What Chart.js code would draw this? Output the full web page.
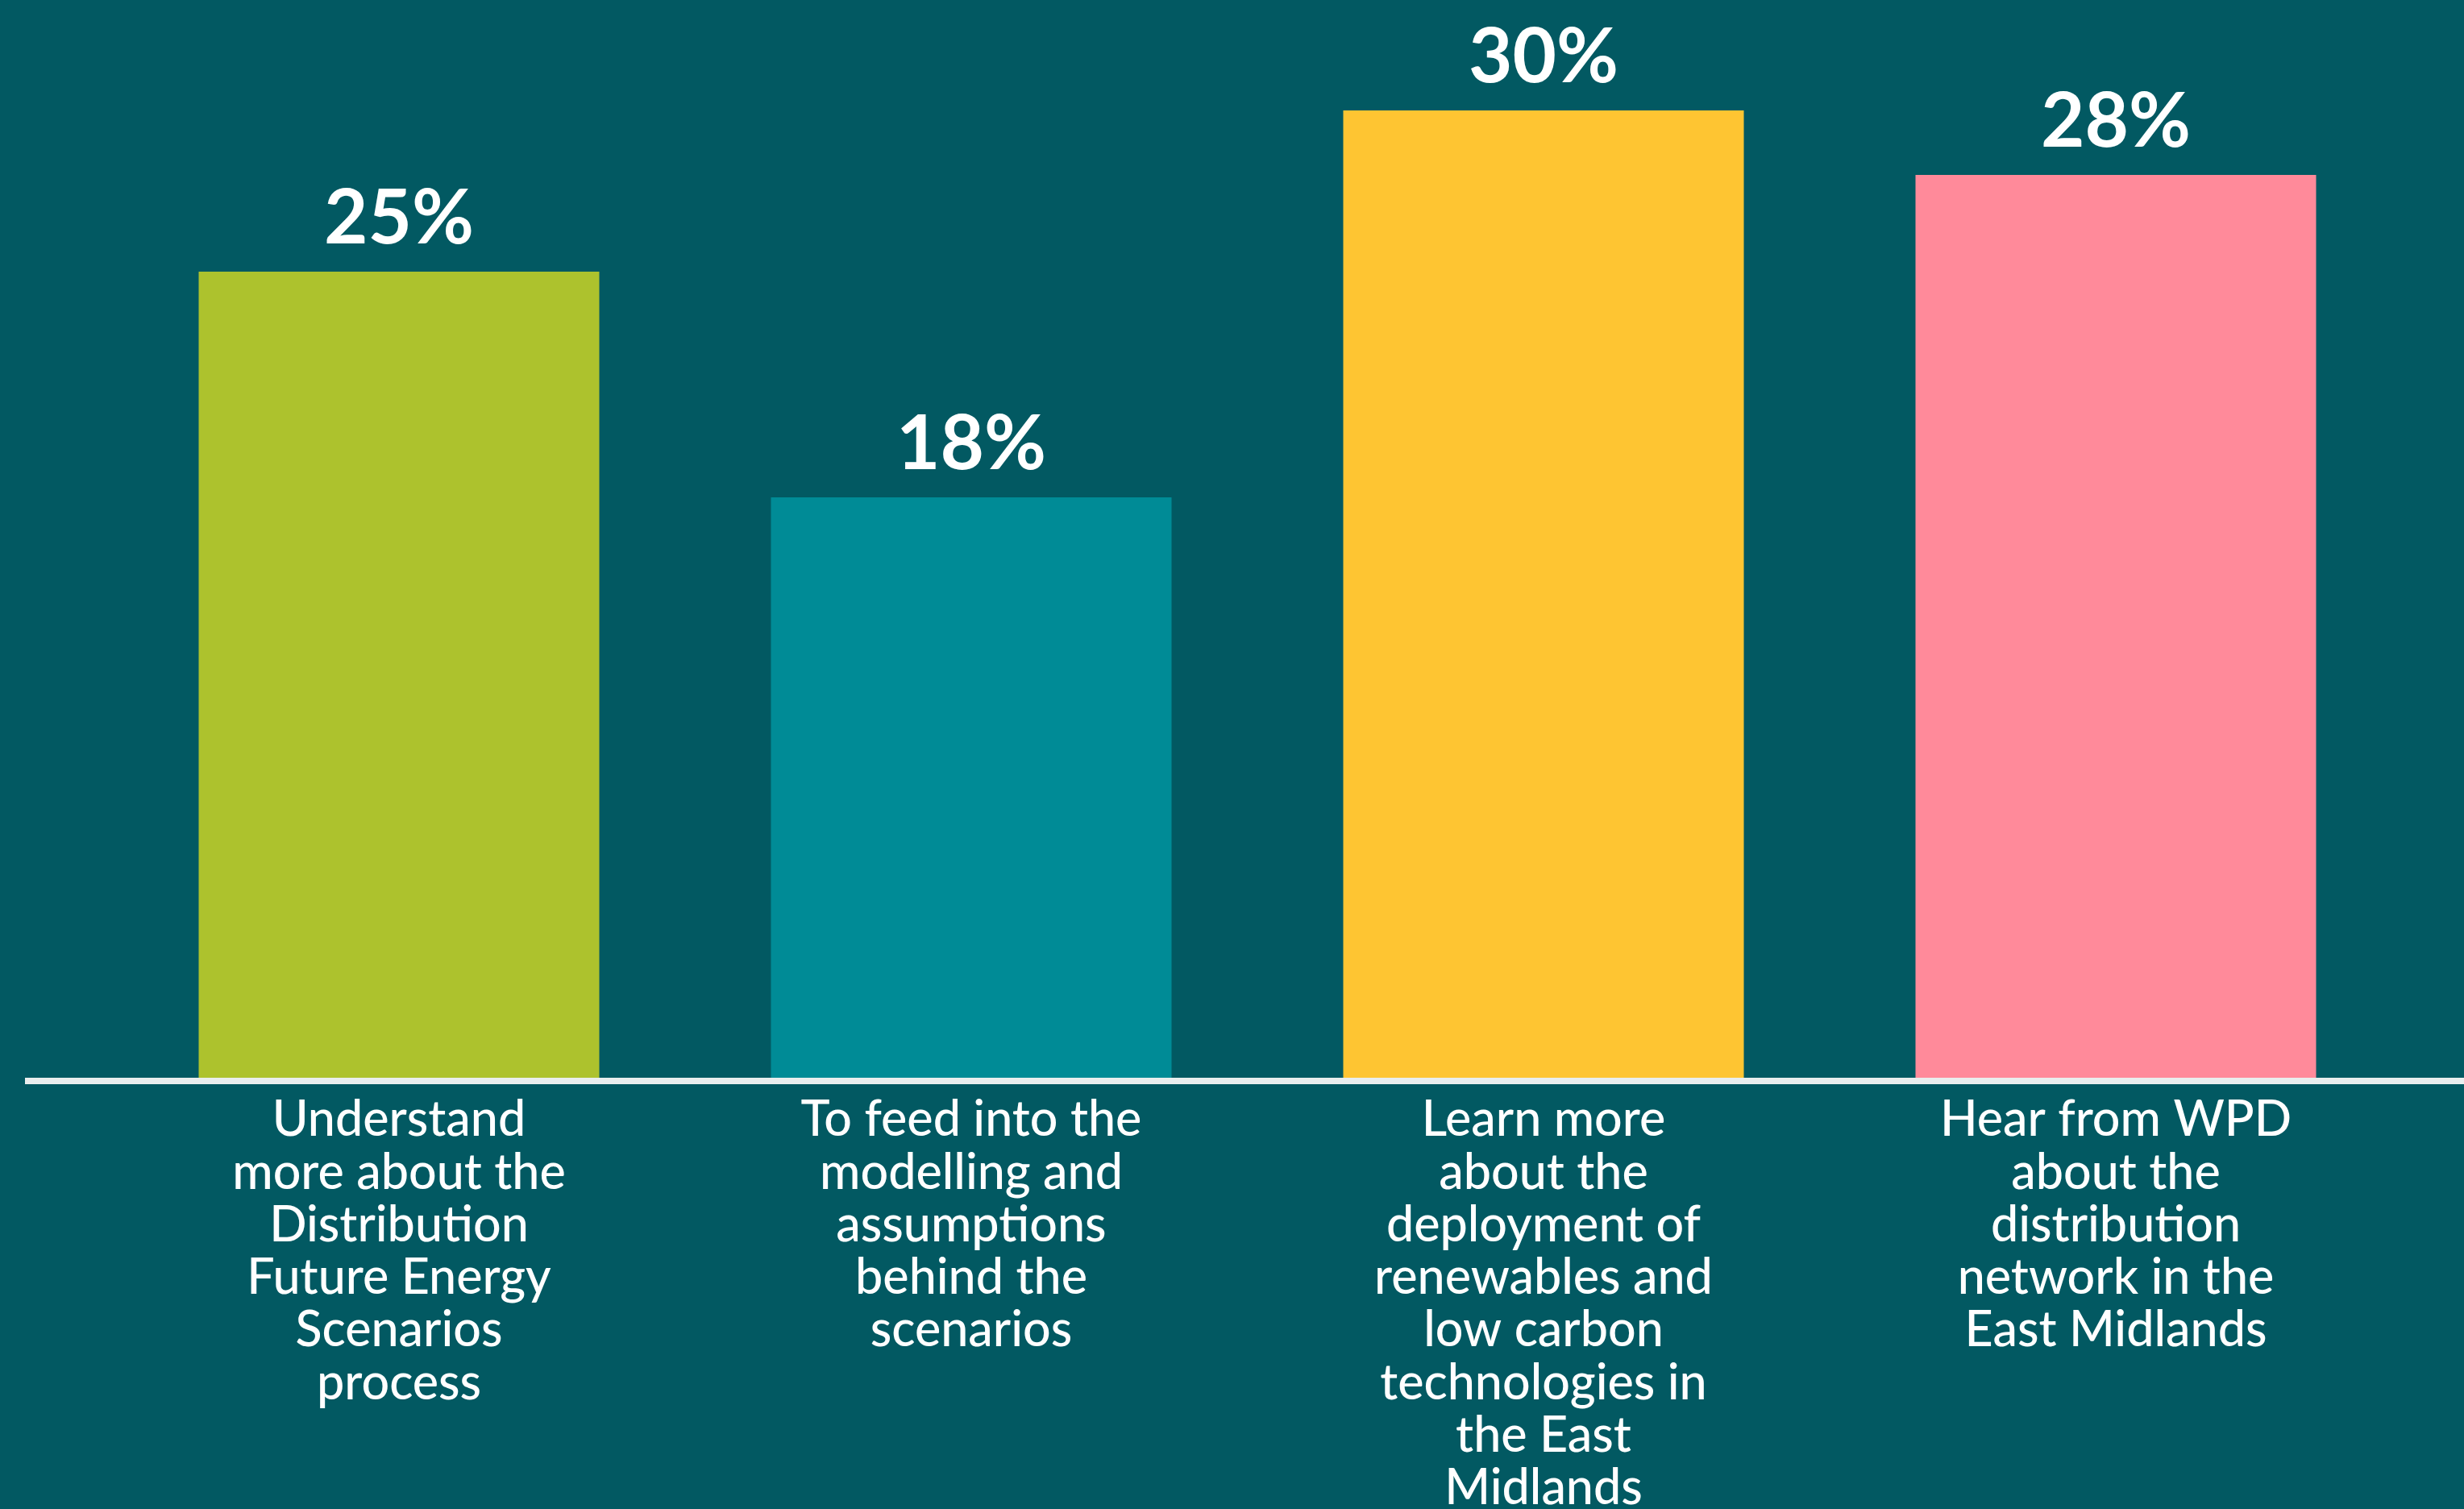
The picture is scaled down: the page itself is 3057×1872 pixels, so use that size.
<!DOCTYPE html>
<html>
<head>
<meta charset="utf-8">
<title>Reasons for attending</title>
<script src="https://cdn.jsdelivr.net/npm/chart.js@4.4.1/dist/chart.umd.min.js"></script>
<style>
  html, body { margin: 0; padding: 0; background: #025962; overflow: hidden; }
  #wrap { width: 3057px; height: 1872px; }
</style>
</head>
<body>
<div id="wrap"><canvas id="reasons" width="3057" height="1872"></canvas></div>
<script>
"use strict";

var categories = [
  ["Understand", "more about the", "Distribution", "Future Energy", "Scenarios", "process"],
  ["To feed into the", "modelling and", "assumptions", "behind the", "scenarios"],
  ["Learn more", "about the", "deployment of", "renewables and", "low carbon", "technologies in", "the East", "Midlands"],
  ["Hear from WPD", "about the", "distribution", "network in the", "East Midlands"]
];
var shares = [25, 18, 30, 28];
var barColours = ["#adc22d", "#008b96", "#fec532", "#ff8a9a"];

var BG = "#025962";
var FONT = "Lato, 'Open Sans', sans-serif";

// white rule under the bars, running past the plot to the right edge
var baseline = {
  id: "baseline",
  afterDatasetsDraw: function (chart) {
    var ctx = chart.ctx;
    var y = chart.chartArea.bottom;
    ctx.save();
    ctx.fillStyle = "#e9eeee";
    ctx.fillRect(31, y, chart.width - 31, 8);
    ctx.restore();
  }
};

// percentage above each bar
var valueLabels = {
  id: "valueLabels",
  afterDatasetsDraw: function (chart) {
    var ctx = chart.ctx;
    var meta = chart.getDatasetMeta(0);
    ctx.save();
    ctx.fillStyle = "#ffffff";
    ctx.font = "bold 94px " + FONT;
    ctx.textAlign = "center";
    ctx.textBaseline = "alphabetic";
    meta.data.forEach(function (bar, i) {
      ctx.fillText(shares[i] + "%", bar.x, bar.y - 35);
    });
    ctx.restore();
  }
};

var ctx = document.getElementById("reasons").getContext("2d");

var reasonsChart = new Chart(ctx, {
  type: "bar",
  data: {
    labels: categories,
    datasets: [{
      data: shares,
      backgroundColor: barColours,
      borderWidth: 0,
      barPercentage: 0.7,
      categoryPercentage: 1.0
    }]
  },
  options: {
    responsive: false,
    animation: false,
    events: [],
    layout: { padding: { left: 140, right: 77, top: 17, bottom: 0 } },
    plugins: {
      legend: { display: false },
      tooltip: { enabled: false }
    },
    scales: {
      x: {
        grid: { display: false, drawTicks: false },
        border: { display: false },
        ticks: {
          color: "#ffffff",
          padding: 20,
          maxRotation: 0,
          autoSkip: false,
          font: { family: FONT, size: 61, weight: "500", lineHeight: 1.07 }
        },
        afterFit: function (scale) { scale.height = 535; }
      },
      y: {
        display: false,
        min: 0,
        max: 33
      }
    }
  },
  plugins: [
    {
      id: "bg",
      beforeDraw: function (chart) {
        chart.ctx.save();
        chart.ctx.fillStyle = BG;
        chart.ctx.fillRect(0, 0, chart.width, chart.height);
        chart.ctx.restore();
      }
    },
    baseline,
    valueLabels
  ]
});
</script>
</body>
</html>
